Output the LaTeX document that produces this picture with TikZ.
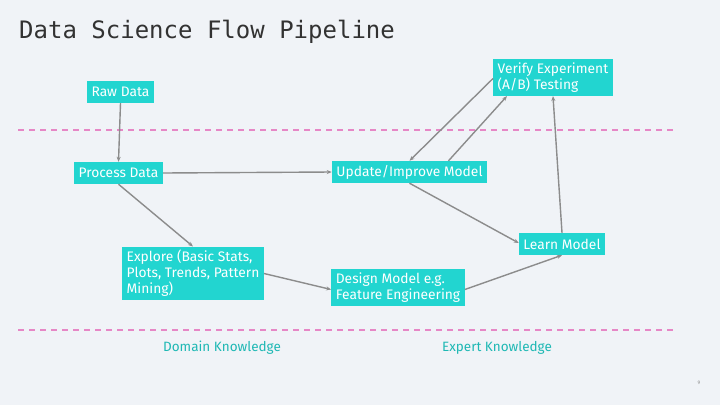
\documentclass[tikz,border=0pt]{standalone}
\usepackage{fontspec}
\setmainfont{Fira Sans}
\setsansfont{Fira Sans}
\setmonofont{DejaVu Sans Mono}
\usetikzlibrary{arrows.meta}
\definecolor{bg}{RGB}{240, 243, 247}
\definecolor{teal}{RGB}{34, 213, 208}
\definecolor{tealtext}{RGB}{30, 184, 180}
\definecolor{arrowgray}{RGB}{140, 140, 140}
\definecolor{pinkdash}{RGB}{230, 135, 198}
\definecolor{titlegray}{RGB}{50, 50, 50}
\tikzset{
  stepbox/.style={fill=teal, text=white, font=\sffamily\fontsize{13.8}{16}\selectfont,
    inner xsep=4.5pt, inner ysep=3.5pt, align=left, minimum height=22pt},
  flow/.style={-{Stealth[length=5pt, width=4pt]}, color=arrowgray, line width=1.4pt},
  zone/.style={color=pinkdash, line width=1.2pt, dash pattern=on 6pt off 5pt}
}

\begin{document}
\begin{tikzpicture}[x=1pt, y=-1pt]
  \fill [color=bg] (0, 0) rectangle (720, 405);

  \node [anchor=base west, font=\ttfamily\fontsize{24}{24}\selectfont, text=titlegray, inner sep=0pt] (title) at (19, 38) {Data Science Flow Pipeline};

  \draw [zone] (18, 130) -- (675, 130);
  \draw [zone] (18, 330) -- (675, 330);

  \node [stepbox] (raw) at (120.5, 92) {Raw Data};
  \node [stepbox] (process) at (118.5, 173) {Process Data};
  \node [stepbox] (update) at (409.5, 172) {Update/Improve Model};
  \node [stepbox] (verify) at (553, 77.5) {Verify Experiment\\(A/B) Testing};
  \node [stepbox] (learn) at (562, 244) {Learn Model};
  \node [stepbox] (explore) at (193, 273.5) {Explore (Basic Stats,\\Plots, Trends, Pattern\\Mining)};
  \node [stepbox] (design) at (398, 287.5) {Design Model e.g.\\Feature Engineering};

  \draw [flow] (raw.south) -- (process.north);
  \draw [flow] (process.east) -- (update.west);
  \draw [flow] (process.south) -- (explore.north);
  \draw [flow] (explore.east) -- ([yshift=-2pt]design.west);
  \draw [flow] ([yshift=-2pt]design.east) -- (learn.south);
  \draw [flow] (update.south) -- ([yshift=1pt]learn.west);
  \draw [flow] (learn.north) -- (verify.south);
  \draw [flow] ([yshift=-1pt]verify.west) -- (update.north);
  \draw [flow] ([xshift=39pt]update.north) -- ([xshift=-46pt]verify.south);

  \node [text=tealtext, font=\sffamily\fontsize{13.5}{15}\selectfont] (domain) at (222, 348) {Domain Knowledge};
  \node [text=tealtext, font=\sffamily\fontsize{13.5}{15}\selectfont] (expert) at (497, 348) {Expert Knowledge};

  \node [text=arrowgray, font=\sffamily\fontsize{5}{5}\selectfont] (page) at (699, 383) {9};
\end{tikzpicture}
\end{document}
